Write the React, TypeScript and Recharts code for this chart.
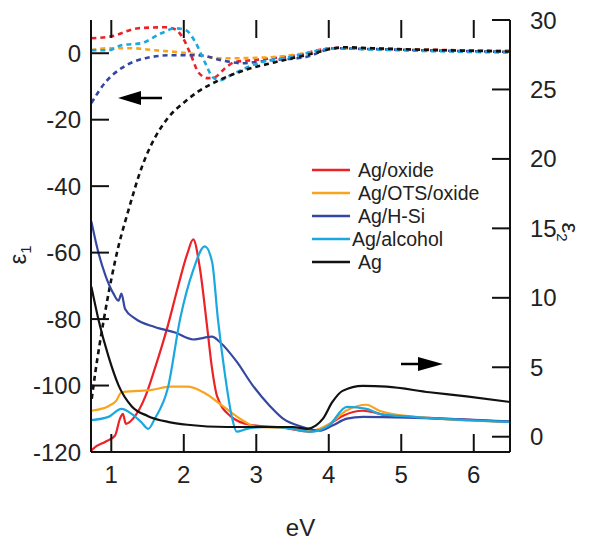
import React from "react";
import { LineChart, Line, XAxis, YAxis } from "recharts";

type Pt = [number, number];

const eVTicks = [1, 2, 3, 4, 5, 6];
const e1Ticks = [-120, -100, -80, -60, -40, -20, 0];
const e2Ticks = [0, 5, 10, 15, 20, 25, 30];
const eVDomain: [number, number] = [0.72, 6.5];
const e1Domain: [number, number] = [-120, 10];
const e2Domain: [number, number] = [-1.1, 30];

// epsilon_1 (dotted, left axis)
const oxideE1: Pt[] = [
  [0.725, 4.5], [1.0, 5.1], [1.37, 7.5], [1.74, 7.8], [1.88, 7.2], [1.99, 4.5], [2.1, -0.6],
  [2.2, -5.7], [2.33, -7.5], [2.43, -7.2], [2.57, -4.5], [2.7, -2.7], [3.0, -2.0], [3.5, -0.8],
  [4.1, 1.6], [4.5, 1.4], [5.5, 1.0], [6.5, 0.7],
];
const otsE1: Pt[] = [
  [0.725, 0.9], [0.96, 1.5], [1.28, 1.5], [1.6, 0.9], [2.06, 0], [2.52, -1.5], [2.7, -1.5],
  [3.2, -1.2], [3.67, 0], [4.12, 1.5], [4.5, 1.3], [5.5, 0.9], [6.5, 0.6],
];
const hsiE1: Pt[] = [
  [0.725, -15], [0.92, -8.7], [1.14, -4.5], [1.47, -1.5], [1.83, -0.6], [2.2, -0.6], [2.52, -2.1],
  [2.79, -3.0], [3.2, -2.1], [3.67, -1.2], [4.08, 1.5], [4.5, 1.3], [5.5, 0.8], [6.5, 0.4],
];
const alcoholE1: Pt[] = [
  [0.725, 0.9], [0.96, 0.9], [1.14, 2.4], [1.41, 3.0], [1.69, 6.0], [1.88, 7.5], [2.03, 6.9],
  [2.16, 3.3], [2.29, -2.7], [2.4, -7.2], [2.5, -8.1], [2.65, -6.6], [2.79, -5.1], [3.0, -3.2],
  [3.5, -1.0], [4.1, 1.5], [4.5, 1.2], [5.5, 0.6], [6.5, 0.2],
];
const agE1: Pt[] = [
  [0.73, -104], [0.78, -96], [0.89, -81], [1.0, -68], [1.1, -58], [1.2, -50], [1.28, -44],
  [1.37, -37.5], [1.47, -31.5], [1.6, -25.5], [1.78, -19.5], [2.02, -14.5], [2.2, -11.5],
  [2.47, -8.3], [2.84, -5.1], [3.26, -2.7], [3.8, 0], [4.08, 1.5], [4.2, 1.8], [4.6, 1.5],
  [5.2, 1.1], [5.8, 0.8], [6.5, 0.5],
];

// epsilon_2 (solid, right axis)
const oxideE2: Pt[] = [
  [0.725, -1], [0.75, -0.86], [0.92, -0.36], [1.05, 0.07], [1.12, 1.3], [1.16, 1.65], [1.2, 0.93],
  [1.33, 1.5], [1.47, 2.9], [1.6, 4.9], [1.78, 8.0], [1.92, 10.8], [2.05, 13.2], [2.13, 14.2],
  [2.22, 12.2], [2.32, 8], [2.39, 4.9], [2.46, 2.9], [2.64, 1.5], [2.91, 0.86], [3.37, 0.65],
  [3.74, 0.36], [3.95, 0.7], [4.19, 1.5], [4.47, 1.87], [4.84, 1.5], [5.39, 1.36], [6.5, 1.07],
];
const otsE2: Pt[] = [
  [0.725, 1.87], [0.96, 2.2], [1.07, 2.6], [1.14, 3.2], [1.37, 3.3], [1.54, 3.35], [1.81, 3.6],
  [2.05, 3.6], [2.27, 3.2], [2.54, 2.2], [2.82, 1.15], [3.0, 0.7], [3.4, 0.65], [3.75, 0.4],
  [4.0, 0.9], [4.25, 1.9], [4.52, 2.3], [4.7, 1.87], [5.2, 1.43], [6.5, 1.07],
];
const hsiE2: Pt[] = [
  [0.725, 15.5], [0.82, 13.3], [0.92, 11.6], [1.03, 10.3], [1.1, 9.8], [1.14, 10.3], [1.19, 9.2],
  [1.33, 8.5], [1.6, 7.9], [1.88, 7.5], [2.13, 7.0], [2.39, 7.2], [2.5, 6.8], [2.73, 5.4],
  [2.95, 3.7], [3.19, 2.2], [3.37, 1.3], [3.64, 0.7], [3.87, 0.43], [4.05, 0.8], [4.25, 1.3],
  [4.47, 1.43], [5.2, 1.36], [6.5, 1.1],
];
const alcoholE2: Pt[] = [
  [0.725, 1.2], [0.96, 1.43], [1.14, 2.0], [1.28, 1.65], [1.41, 1.07], [1.51, 0.57], [1.6, 1.3],
  [1.78, 3.5], [1.95, 8.5], [2.13, 12], [2.29, 13.7], [2.39, 12.6], [2.47, 8.5], [2.57, 4.4],
  [2.66, 1.5], [2.73, 0.36], [2.87, 0.57], [3.14, 0.7], [3.4, 0.65], [3.75, 0.36], [4.0, 0.8],
  [4.25, 2.15], [4.52, 2.0], [4.7, 1.65], [5.16, 1.43], [6.5, 1.07],
];
const agE2: Pt[] = [
  [0.725, 10.8], [0.82, 8.5], [0.96, 5.8], [1.1, 3.7], [1.28, 2.2], [1.5, 1.5], [1.78, 1.07],
  [2.05, 0.86], [2.6, 0.7], [3.5, 0.7], [3.7, 0.57], [3.82, 0.8], [3.92, 1.3], [4.05, 2.5],
  [4.19, 3.3], [4.47, 3.66], [4.8, 3.6], [5.39, 3.2], [5.9, 2.9], [6.5, 2.5],
];

const series = [
  { name: "Ag/oxide", color: "#ec2227", e1: oxideE1, e2: oxideE2 },
  { name: "Ag/OTS/oxide", color: "#f7a51e", e1: otsE1, e2: otsE2 },
  { name: "Ag/H-Si", color: "#3448a3", e1: hsiE1, e2: hsiE2 },
  { name: "Ag/alcohol", color: "#1ba8e0", e1: alcoholE1, e2: alcoholE2 },
  { name: "Ag", color: "#111111", e1: agE1, e2: agE2 },
];

const rows = (pts: Pt[]) => pts.map(([x, y]) => ({ x, y }));

// plot box (from chart size, margins and axis sizes below)
const W = 590, H = 542;
const LEFT = 91, RIGHT = 510, TOP = 20, BOTTOM = 452;
const TICK = 18;
const sx = (v: number) => LEFT + ((v - eVDomain[0]) / (eVDomain[1] - eVDomain[0])) * (RIGHT - LEFT);
const sy = (v: number, d: [number, number]) => BOTTOM - ((v - d[0]) / (d[1] - d[0])) * (BOTTOM - TOP);

const FONT = "'Liberation Sans', Arial, sans-serif";
const tickStyle = { fill: "#222", fontSize: 24, fontFamily: FONT };
const lineStyle = { stroke: "#111", strokeWidth: 2 };

export default function App() {
  return (
    <div style={{ position: "absolute", left: 0, top: 0, width: W, height: H, background: "#fff", fontFamily: FONT }}>
      <LineChart width={W} height={H} margin={{ top: TOP, right: 0, bottom: 0, left: 0 }}>
        <XAxis
          xAxisId="b" dataKey="x" type="number" domain={eVDomain} ticks={eVTicks} allowDataOverflow
          height={H - BOTTOM} tickSize={0} tickMargin={14} axisLine={lineStyle} tickLine={false} tick={tickStyle}
          label={{ value: "eV", position: "insideBottom", offset: 6, fontSize: 24, fill: "#222", fontFamily: FONT }}
        />
        <XAxis
          xAxisId="t" orientation="top" dataKey="x" type="number" domain={eVDomain} ticks={eVTicks}
          allowDataOverflow height={0} axisLine={lineStyle} tickLine={false} tick={false}
        />
        <YAxis
          yAxisId="e1" type="number" domain={e1Domain} ticks={e1Ticks} allowDataOverflow width={LEFT}
          tickSize={0} tickMargin={10} axisLine={lineStyle} tickLine={false} tick={tickStyle}
        />
        <YAxis
          yAxisId="e2" orientation="right" type="number" domain={e2Domain} ticks={e2Ticks} allowDataOverflow
          width={W - RIGHT} tickSize={0} tickMargin={20} axisLine={lineStyle} tickLine={false} tick={tickStyle}
        />
        {series.map((s) => (
          <Line
            key={s.name + "e1"} xAxisId="b" yAxisId="e1" data={rows(s.e1)} dataKey="y" type="monotone"
            stroke={s.color} strokeWidth={2.6} strokeDasharray="5 4" dot={false} isAnimationActive={false}
          />
        ))}
        {series.map((s) => (
          <Line
            key={s.name + "e2"} xAxisId="b" yAxisId="e2" data={rows(s.e2)} dataKey="y" type="monotone"
            stroke={s.color} strokeWidth={2.2} dot={false} isAnimationActive={false}
          />
        ))}
      </LineChart>
      <svg width={W} height={H} style={{ position: "absolute", left: 0, top: 0, pointerEvents: "none" }}>
        {/* inward tick marks */}
        {eVTicks.map((t) => (
          <g key={"x" + t}>
            <line x1={sx(t)} x2={sx(t)} y1={BOTTOM} y2={BOTTOM - TICK} {...lineStyle} />
            <line x1={sx(t)} x2={sx(t)} y1={TOP} y2={TOP + TICK} {...lineStyle} />
          </g>
        ))}
        {e1Ticks.map((t) => (
          <line key={"l" + t} x1={LEFT} x2={LEFT + TICK} y1={sy(t, e1Domain)} y2={sy(t, e1Domain)} {...lineStyle} />
        ))}
        {e2Ticks.map((t) => (
          <line key={"r" + t} x1={RIGHT} x2={RIGHT - TICK} y1={sy(t, e2Domain)} y2={sy(t, e2Domain)} {...lineStyle} />
        ))}
        {/* arrows */}
        <line x1={139} y1={98} x2={162} y2={98} stroke="#000" strokeWidth={2.5} />
        <polygon points="118,98 141,91 141,105" fill="#000" />
        <line x1={401} y1={364} x2={420} y2={364} stroke="#000" strokeWidth={2.5} />
        <polygon points="443,364 418,357 418,371" fill="#000" />
        {/* axis titles */}
        <text transform="translate(26,255) rotate(-90)" fontSize={24} fill="#222" fontFamily={FONT} textAnchor="middle">
          ε<tspan fontSize={15} dy={5}>1</tspan>
        </text>
        <text transform="translate(562,232) rotate(90)" fontSize={24} fill="#222" fontFamily={FONT} textAnchor="middle">
          ε<tspan fontSize={15} dy={5}>2</tspan>
        </text>
        {/* legend */}
        {series.map((s, i) => (
          <g key={s.name}>
            <line x1={312} x2={350} y1={170 + i * 23} y2={170 + i * 23} stroke={s.color} strokeWidth={2.5} />
            <text x={i === 3 ? 352 : 358} y={177 + i * 23} fontSize={19.5} fill="#222" fontFamily={FONT}>
              {s.name}
            </text>
          </g>
        ))}
      </svg>
    </div>
  );
}
